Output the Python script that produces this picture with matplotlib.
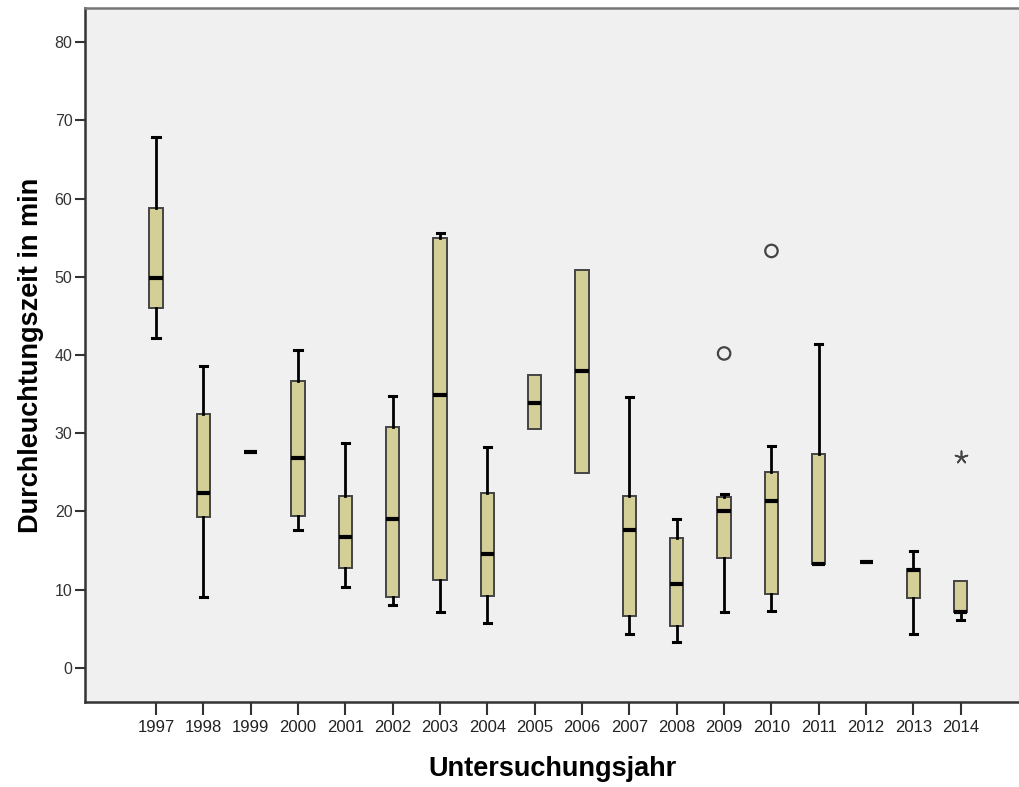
import numpy as np
import matplotlib.pyplot as plt

# Jahre und Kennwerte der Boxplots (min)
jahre = ['1997', '1998', '1999', '2000', '2001', '2002', '2003', '2004', '2005',
         '2006', '2007', '2008', '2009', '2010', '2011', '2012', '2013', '2014']
whisker_unten = [42.2, 9.1, 27.6, 17.6, 10.4, 8.0, 7.1, 5.8, 30.5,
                 24.9, 4.3, 3.3, 7.1, 7.3, 13.3, 13.5, 4.3, 6.1]
q1 = [46.0, 19.3, 27.6, 19.4, 12.8, 9.1, 11.2, 9.2, 30.5,
      24.9, 6.7, 5.3, 14.0, 9.5, 13.3, 13.5, 9.0, 7.2]
median = [49.8, 22.4, 27.6, 26.8, 16.7, 19.1, 34.9, 14.6, 33.9,
          37.9, 17.6, 10.7, 20.0, 21.4, 13.3, 13.5, 12.5, 7.2]
q3 = [58.8, 32.5, 27.6, 36.7, 22.0, 30.8, 55.0, 22.3, 37.4,
      50.9, 22.0, 16.6, 21.9, 25.0, 27.4, 13.5, 12.7, 11.1]
whisker_oben = [67.9, 38.6, 27.6, 40.6, 28.8, 34.7, 55.6, 28.2, 37.4,
                50.9, 34.6, 19.1, 22.2, 28.4, 41.4, 13.5, 15.0, 11.1]

# Ausreisser (Kreis) und Extremwerte (Stern)
ausreisser_jahr = ['2009', '2010']
ausreisser_wert = [40.2, 53.3]
extrem_jahr = ['2014']
extrem_wert = [26.9]

stats = []
for i in range(len(jahre)):
    stats.append({'whislo': whisker_unten[i], 'q1': q1[i], 'med': median[i],
                  'q3': q3[i], 'whishi': whisker_oben[i], 'fliers': []})

fig = plt.figure(figsize=(10.2, 7.87), dpi=100)
ax = fig.add_axes([85 / 1020, 1 - 702 / 787, 1 - 85 / 1020, (702 - 8) / 787])
ax.set_facecolor('#f0f0f0')

pos = np.arange(len(jahre))
bp = ax.bxp(stats, positions=pos, widths=0.28, patch_artist=True, showfliers=False,
            boxprops=dict(facecolor='#d4cf97', edgecolor='#444444', linewidth=1.4),
            medianprops=dict(color='black', linewidth=3, solid_capstyle='butt'),
            whiskerprops=dict(color='black', linewidth=2),
            capprops=dict(color='black', linewidth=2.2),
            capwidths=0.15)

# keine Querstriche, wo der Whisker mit der Box zusammenfaellt
for i in range(len(jahre)):
    if whisker_unten[i] == q1[i]:
        bp['caps'][2 * i].set_visible(False)
    if whisker_oben[i] == q3[i]:
        bp['caps'][2 * i + 1].set_visible(False)

idx = {j: k for k, j in enumerate(jahre)}
ax.scatter([idx[j] for j in ausreisser_jahr], ausreisser_wert, s=80,
           facecolors='none', edgecolors='#444444', linewidths=1.6, zorder=4)
ax.scatter([idx[j] for j in extrem_jahr], extrem_wert, s=80, marker=(5, 2, 0),
           color='#444444', linewidths=1.2, zorder=4)

ax.set_xlim(-1.5, 18.25)
ax.set_ylim(-4.35, 84.35)
ax.set_yticks([0, 10, 20, 30, 40, 50, 60, 70, 80])
ax.set_xticks(pos)
ax.set_xticklabels(jahre, fontsize=12, color='#222222', family='Liberation Sans')
ax.tick_params(axis='y', labelsize=11.5, labelcolor='#333333', length=7, width=1.5,
               color='#333333', pad=2)
ax.tick_params(axis='x', length=9, width=1.5, color='#333333', pad=4)
for lbl in ax.get_yticklabels():
    lbl.set_family('Liberation Sans')

for s in ['left', 'bottom', 'top']:
    ax.spines[s].set_color('#333333')
    ax.spines[s].set_linewidth(1.8)
ax.spines['top'].set_color('#777777')
ax.spines['right'].set_visible(False)

ax.set_ylabel('Durchleuchtungszeit in min', fontsize=19.5, fontweight='bold',
              family='Liberation Sans', labelpad=8)
ax.set_xlabel('Untersuchungsjahr', fontsize=19.5, fontweight='bold',
              family='Liberation Sans', labelpad=15)

fig.savefig('out.png', dpi=100)
